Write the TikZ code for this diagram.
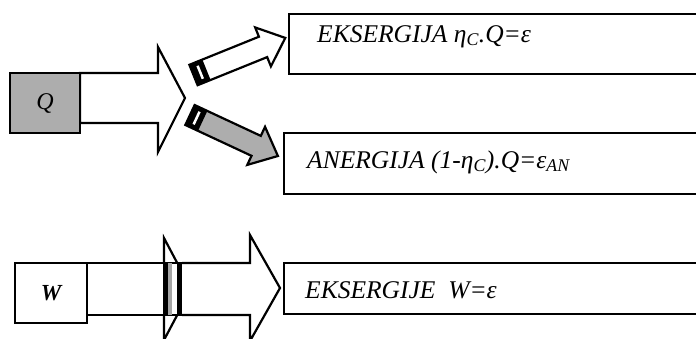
\documentclass[tikz,border=0pt]{standalone}
\usepackage{fontspec}
\setmainfont{Liberation Serif}
\begin{document}
\begin{tikzpicture}[x=1pt,y=-1pt,line join=miter]
\useasboundingbox[fill=white] (0,0) rectangle (696,338);
\tikzset{
  boxframe/.style={draw=black,line width=2.2pt,fill=white,inner sep=0pt},
  txt/.style={font=\fontsize{25.5}{28}\selectfont\itshape,anchor=base west,inner sep=0pt},
  shapeline/.style={draw=black,line width=2.2pt,line join=miter},
  stipple/.style={fill=black!32},
}
% ---------- right boxes ----------
\node[boxframe,anchor=north west,minimum width=430,minimum height=60] (b1) at (288,13) {};
\node[boxframe,anchor=north west,minimum width=430,minimum height=61] (b2) at (283,132) {};
\node[boxframe,anchor=north west,minimum width=430,minimum height=51] (b3) at (283,262) {};
\node[txt] (t1) at (317,42) {EKSERGIJA η\textsubscript{C}.Q=ε};
\node[txt] (t2) at (307,168) {ANERGIJA (1-η\textsubscript{C}).Q=ε\textsubscript{AN}};
\node[txt] (t3) at (305,298) {EKSERGIJE\ \ W=ε};
% ---------- Q arrow ----------
\draw[shapeline,fill=white] (80,73) -- (158,73) -- (158,47) -- (185,98) -- (158,152) -- (158,123) -- (80,123) -- cycle;
\node[boxframe,stipple,minimum width=70,minimum height=60] (q) at (45,103) {\fontsize{24}{26}\selectfont\itshape Q};
% ---------- upper small arrow ----------
\begin{scope}[shift={(193.5,75)},rotate=22]
  \fill[white] (0,-11) -- (75,-11) -- (75,-21) -- (99,0) -- (75,21) -- (75,11) -- (0,11) -- cycle;
  \fill[black] (0,-11) rectangle (14,11);
  \fill[white] (6,-7) rectangle (8.5,7);
  \draw[shapeline] (0,-11) -- (75,-11) -- (75,-21) -- (99,0) -- (75,21) -- (75,11) -- (0,11) -- cycle;
\end{scope}
% ---------- lower small arrow ----------
\begin{scope}[shift={(190,115)},rotate=-25]
  \fill[black!32] (0,-11) -- (73,-11) -- (73,-21) -- (97,0) -- (73,21) -- (73,11) -- (0,11) -- cycle;
  \fill[black] (0,-11) rectangle (14,11);
  \fill[white] (6,-7) rectangle (8.5,7);
  \draw[shapeline] (0,-11) -- (73,-11) -- (73,-21) -- (97,0) -- (73,21) -- (73,11) -- (0,11) -- cycle;
\end{scope}
% ---------- W arrow ----------
\draw[shapeline,fill=white] (164,238) -- (191,289) -- (164,340) -- cycle;
\draw[shapeline,fill=white] (87,263) rectangle (182,315);
\fill[black] (163,263) rectangle (168,315);
\fill[black!35] (168,263) rectangle (172,315);
\fill[black] (177,263) rectangle (182,315);
\draw[shapeline,fill=white] (182,263) -- (250,263) -- (250,235) -- (280,288) -- (250,341) -- (250,315) -- (182,315);
\node[boxframe,minimum width=72,minimum height=60] (w) at (51,293) {\fontsize{23}{26}\selectfont\bfseries\itshape W};
\end{tikzpicture}
\end{document}
